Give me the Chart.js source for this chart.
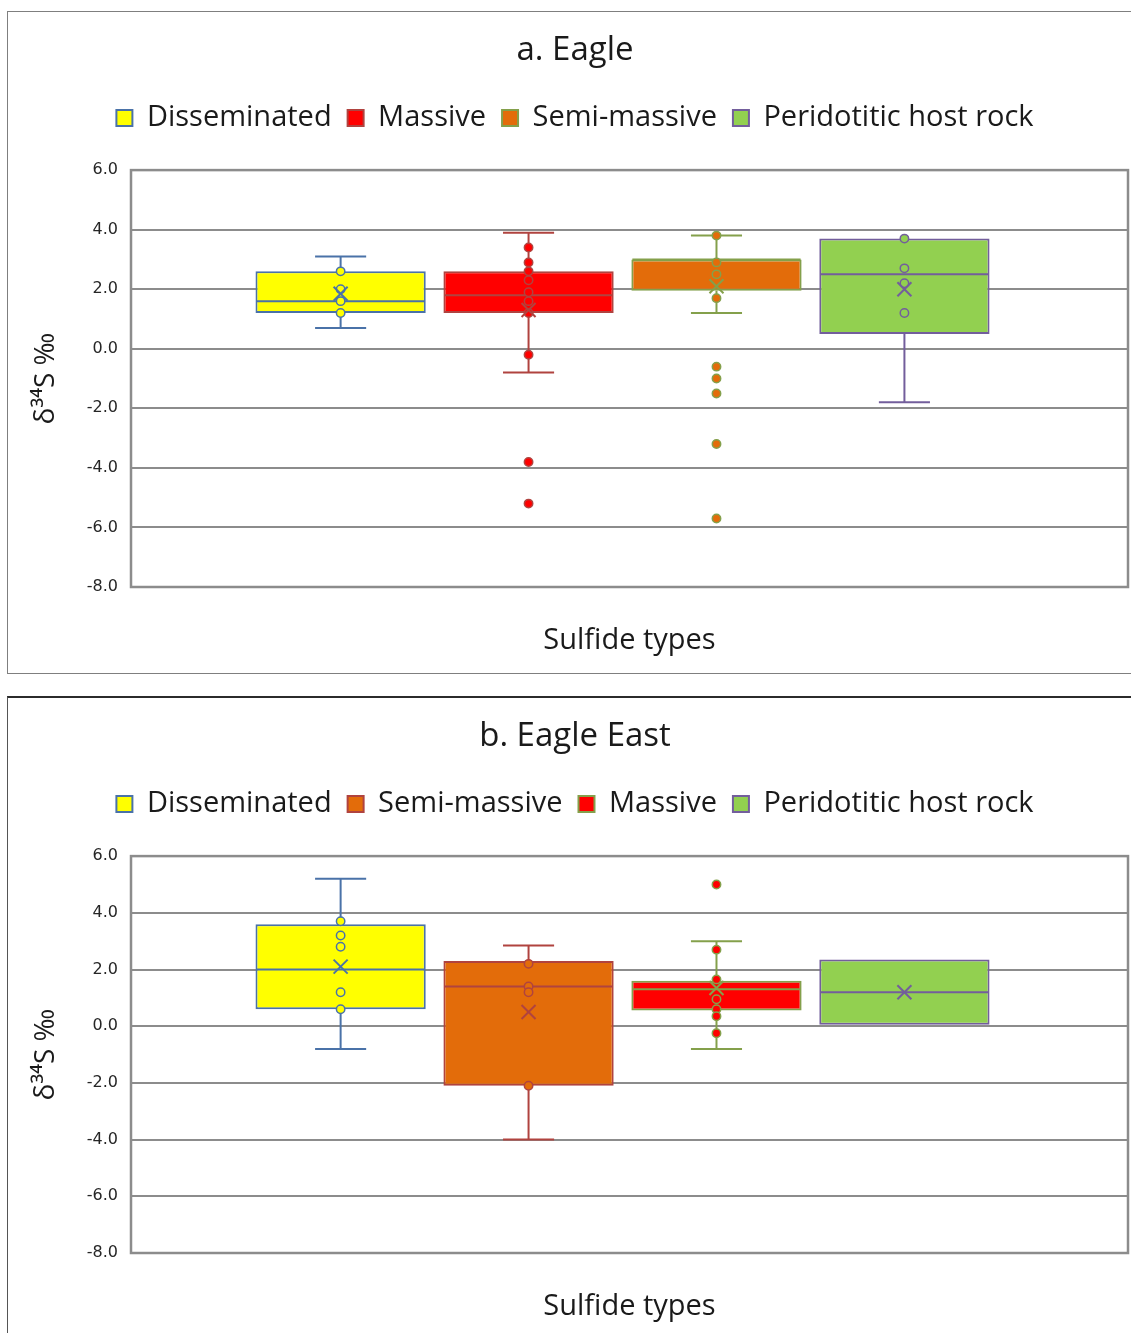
<!DOCTYPE html>
<html>
<head>
<meta charset="utf-8">
<title>δ34S of sulfide types — Eagle and Eagle East</title>
<script src="https://cdn.jsdelivr.net/npm/chart.js@4.4.1/dist/chart.umd.min.js"></script>
<style>
  html, body { margin: 0; padding: 0; background: #ffffff; overflow: hidden; width: 1131px; height: 1333px; }
  .frame { position: absolute; left: 7px; width: 1134px; box-sizing: border-box; background: #fff; }
  #frameA { top: 11px; height: 663px; border: 1px solid #7f7f7f; }
  #frameB { top: 696px; height: 700px; border-top: 2px solid #2b2b2b; border-left: 1px solid #555; }
  canvas { position: absolute; left: 0; top: 0; }
</style>
</head>
<body>
<div class="frame" id="frameA"><canvas id="chartA" width="1132" height="661"></canvas></div>
<div class="frame" id="frameB"><canvas id="chartB" width="1132" height="641"></canvas></div>
<script>
// ---- value axis ----
const yMin = -8.0;
const yMax = 6.0;
const yStep = 2.0;

// ---- a. Eagle ----
const seriesA = ['Disseminated', 'Massive', 'Semi-massive', 'Peridotitic host rock'];
const minA    = [0.7, -0.8, 1.2, -1.8];
const q1A     = [1.2, 1.2, 1.95, 0.5];
const medianA = [1.6, 1.8, 3.0, 2.5];
const q3A     = [2.6, 2.6, 3.0, 3.7];
const maxA    = [3.1, 3.9, 3.8, 3.7];
const meanA   = [1.85, 1.3, 2.1, 2.0];
const pointsA = [
  [2.6, 2.0, 1.6, 1.2],
  [3.4, 2.9, 2.6, 2.3, 1.9, 1.6, 1.2, -0.2, -3.8, -5.2],
  [3.8, 2.9, 2.5, 1.7, -0.6, -1.0, -1.5, -3.2, -5.7],
  [3.7, 2.7, 2.2, 1.2]
];

// ---- b. Eagle East ----
const seriesB = ['Disseminated', 'Semi-massive', 'Massive', 'Peridotitic host rock'];
const minB    = [-0.8, -4.0, -0.8, 0.05];
const q1B     = [0.6, -2.1, 0.55, 0.05];
const medianB = [2.0, 1.4, 1.3, 1.2];
const q3B     = [3.6, 2.3, 1.6, 2.35];
const maxB    = [5.2, 2.85, 3.0, 2.35];
const meanB   = [2.1, 0.5, 1.35, 1.2];
const pointsB = [
  [3.7, 3.2, 2.8, 1.2, 0.6],
  [2.2, 1.4, 1.2, -2.1],
  [5.0, 2.7, 1.65, 0.95, 0.6, 0.35, -0.25],
  []
];

// ---- styling ----
const fillBySeries = {
  'Disseminated': '#ffff00',
  'Massive': '#ff0000',
  'Semi-massive': '#e36c0a',
  'Peridotitic host rock': '#92d050'
};
// outline colours follow the series position
const outlineByIndex = ['#4a72a8', '#b0433f', '#84a04b', '#735e9c'];

Chart.defaults.font.family = "'Open Sans', sans-serif";
Chart.defaults.color = '#1f1f1f';

// whiskers, median, individual values and mean marker on top of each box
const boxWhiskers = {
  id: 'boxWhiskers',
  afterDatasetsDraw(chart) {
    const { ctx, scales } = chart;
    const y = scales.y;
    ctx.save();
    chart.data.datasets.forEach((ds, i) => {
      const bar = chart.getDatasetMeta(i).data[0];
      if (!bar) return;
      const { x: cx, width: w } = bar.getProps(['x', 'width'], true);
      const line = (x1, y1, x2, y2, lw) => {
        ctx.beginPath();
        ctx.lineWidth = lw;
        ctx.moveTo(x1, y1);
        ctx.lineTo(x2, y2);
        ctx.stroke();
      };
      ctx.strokeStyle = ds.borderColor;
      const cap = w * 0.3;
      if (ds.whiskerMax > ds.q3) {
        const yt = y.getPixelForValue(ds.whiskerMax);
        line(cx, y.getPixelForValue(ds.q3), cx, yt, 2);
        line(cx - cap / 2, yt, cx + cap / 2, yt, 2);
      }
      if (ds.whiskerMin < ds.q1) {
        const yb = y.getPixelForValue(ds.whiskerMin);
        line(cx, y.getPixelForValue(ds.q1), cx, yb, 2);
        line(cx - cap / 2, yb, cx + cap / 2, yb, 2);
      }
      // median
      const ym = y.getPixelForValue(ds.median);
      line(cx - w / 2 + 1, ym, cx + w / 2 - 1, ym, 2);
      // individual values
      ds.values.forEach(v => {
        ctx.beginPath();
        ctx.arc(cx, y.getPixelForValue(v), 4.2, 0, Math.PI * 2);
        ctx.fillStyle = ds.backgroundColor;
        ctx.fill();
        ctx.lineWidth = 1.5;
        ctx.stroke();
      });
      // mean
      const yMean = y.getPixelForValue(ds.mean);
      const h = 7;
      line(cx - h, yMean - h, cx + h, yMean + h, 2);
      line(cx - h, yMean + h, cx + h, yMean - h, 2);
    });
    ctx.restore();
  }
};

// plot-area outline
const plotFrame = {
  id: 'plotFrame',
  afterDraw(chart) {
    const { ctx, chartArea: a } = chart;
    ctx.save();
    ctx.strokeStyle = '#8c8c8c';
    ctx.lineWidth = 2.5;
    ctx.strokeRect(a.left, a.top, a.right - a.left, a.bottom - a.top);
    ctx.restore();
  }
};

function makeDatasets(names, mins, q1s, meds, q3s, maxs, means, pts) {
  return names.map((name, i) => ({
    label: name,
    data: [[q1s[i], q3s[i]]],
    backgroundColor: fillBySeries[name],
    borderColor: outlineByIndex[i],
    borderWidth: 2,
    borderSkipped: false,
    categoryPercentage: 0.754,
    barPercentage: 0.906,
    q1: q1s[i],
    q3: q3s[i],
    median: meds[i],
    whiskerMin: mins[i],
    whiskerMax: maxs[i],
    mean: means[i],
    values: pts[i]
  }));
}

function makeChart(canvasId, titleText, datasets) {
  return new Chart(document.getElementById(canvasId), {
    type: 'bar',
    data: { labels: [''], datasets },
    plugins: [boxWhiskers, plotFrame],
    options: {
      responsive: false,
      animation: false,
      devicePixelRatio: 1,
      layout: { padding: { left: 14, right: 12, top: 0, bottom: 0 } },
      plugins: {
        tooltip: { enabled: false },
        title: {
          display: true,
          text: titleText,
          font: { size: 33, weight: 'normal' },
          color: '#1a1a1a',
          padding: { top: 19, bottom: 17 }
        },
        legend: {
          display: true,
          position: 'top',
          labels: {
            font: { size: 29 },
            color: '#1a1a1a',
            boxWidth: 16,
            boxHeight: 16,
            padding: 16
          }
        },
        subtitle: {
          display: true,
          text: '',
          weight: 500,
          font: { size: 10 },
          padding: { top: 15.5, bottom: 0 }
        }
      },
      scales: {
        x: {
          type: 'category',
          grid: { display: false },
          border: { display: false },
          ticks: { display: false },
          // the box group sits slightly left of the plot centre
          afterDataLimits(scale) { scale.min = scale.min + 0.007; },
          title: {
            display: true,
            text: 'Sulfide types',
            font: { size: 29 },
            color: '#1a1a1a',
            padding: { top: 0, bottom: 15 }
          },
          afterFit(scale) { scale.height = 86; }
        },
        y: {
          min: yMin,
          max: yMax,
          ticks: {
            stepSize: yStep,
            padding: 13,
            color: '#262626',
            font: { family: "'DejaVu Sans', sans-serif", size: 16 },
            callback: v => Number(v).toFixed(1)
          },
          grid: { color: '#8c8c8c', lineWidth: 2, drawTicks: false },
          border: { display: false },
          title: {
            display: true,
            text: 'δ³⁴S ‰',
            font: { size: 28 },
            color: '#1a1a1a',
            padding: { top: 7, bottom: 0 }
          },
          afterFit(scale) { scale.width = 109; }
        }
      }
    }
  });
}

makeChart('chartA', 'a. Eagle',
  makeDatasets(seriesA, minA, q1A, medianA, q3A, maxA, meanA, pointsA));
makeChart('chartB', 'b. Eagle East',
  makeDatasets(seriesB, minB, q1B, medianB, q3B, maxB, meanB, pointsB));
</script>
</body>
</html>
